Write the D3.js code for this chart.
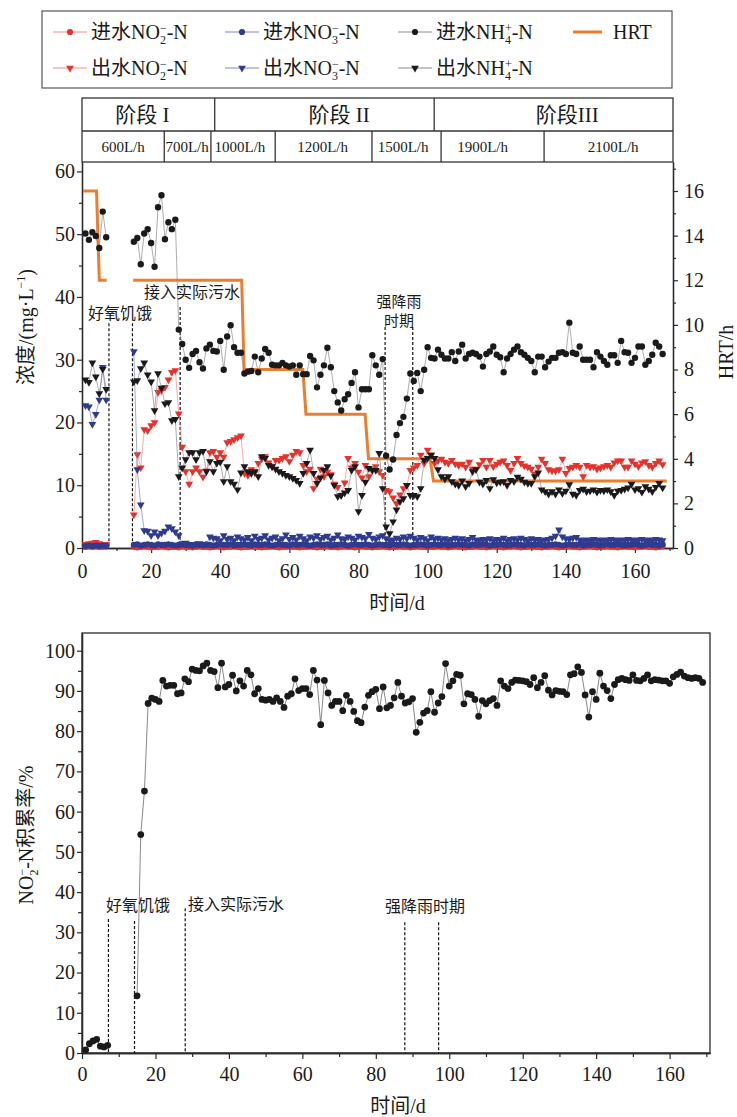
<!DOCTYPE html>
<html>
<head>
<meta charset="utf-8">
<script src="https://cdn.jsdelivr.net/npm/d3@7"></script>
<style>
body { margin: 0; background: #fff; }
text { font-family: "Liberation Serif", "Noto Sans CJK SC", serif; fill: #1a1a1a; }
.note { font-family: "Noto Sans CJK SC", sans-serif; }
</style>
</head>
<body>
<svg id="chart" width="737" height="1117"></svg>
<script>
// ---- data ----
// sampling days: before aerobic starvation, and after it
var days1 = [1, 2, 3, 4, 5, 6, 7];
var days2 = d3.range(15, 169);

var nh4In1 = [50.1, 49.1, 50.3, 49.7, 47.8, 53.6, 49.5];
var nh4In2 = [
  48.8, 49.4, 45.2, 50.1, 50.8, 48.6, 44.8, 54.3, 56.2, 49.2,
  51.9, 50.8, 52.3, 34.8, 32.5, 30.0, 28.7, 30.9, 31.4, 29.6,
  28.6, 31.8, 32.4, 31.4, 31.3, 33.0, 28.4, 33.7, 35.5, 32.0,
  31.1, 31.1, 27.8, 28.1, 28.2, 30.5, 28.0, 30.2, 31.7, 31.1,
  29.2, 29.1, 29.1, 29.5, 29.1, 28.9, 29.1, 27.6, 29.1, 27.7,
  27.7, 30.6, 29.9, 25.6, 27.6, 29.1, 31.9, 28.8, 25.0, 23.2,
  21.9, 23.7, 24.5, 26.3, 28.0, 22.4, 25.3, 25.3, 25.3, 30.7,
  29.1, 27.6, 30.1, 14.7, 12.5, 14.1, 18.0, 19.9, 20.9, 23.8,
  27.8, 26.6, 27.9, 25.0, 28.4, 32.0, 30.3, 30.2, 31.6, 30.8,
  30.2, 30.2, 31.2, 29.8, 31.3, 32.4, 30.2, 30.9, 31.1, 30.9,
  30.5, 28.9, 30.9, 31.3, 32.1, 30.8, 30.4, 28.0, 30.2, 30.9,
  31.6, 32.1, 31.2, 30.8, 30.3, 29.8, 28.0, 30.5, 30.5, 28.8,
  29.7, 30.3, 30.3, 31.1, 31.2, 30.9, 35.9, 31.1, 30.9, 32.1,
  30.0, 30.0, 30.0, 28.8, 31.2, 30.5, 29.8, 29.2, 30.7, 30.7,
  29.5, 33.0, 31.2, 31.1, 29.5, 30.3, 32.1, 32.1, 29.2, 29.8,
  30.8, 32.7, 32.1, 30.9
];

var nh4Out1 = [26.8, 26.4, 29.5, 27.3, 24.6, 28.5, 25.3];
var nh4Out2 = [
  26.5, 26.7, 28.6, 29.5, 27.6, 26.5, 21.9, 27.8, 25.5, 23.0,
  23.2, 20.3, 20.5, 11.4, 12.8, 14.1, 15.2, 15.2, 14.1, 15.2,
  15.4, 12.2, 13.8, 12.2, 13.5, 13.7, 10.6, 13.0, 10.6, 10.2,
  9.3, 12.0, 13.0, 12.2, 11.9, 12.2, 11.4, 14.6, 14.3, 13.2,
  13.0, 12.6, 12.2, 11.9, 11.6, 11.4, 11.1, 10.8, 10.3, 11.9,
  13.5, 15.6, 11.9, 10.3, 11.2, 12.4, 13.0, 11.5, 10.0, 8.2,
  8.4, 8.8, 9.2, 12.4, 13.0, 5.8, 8.4, 10.5, 12.7, 12.4,
  12.4, 15.1, 9.5, 3.4, 2.3, 4.2, 6.1, 7.4, 7.9, 10.0,
  8.4, 8.4, 8.2, 9.5, 14.0, 14.3, 14.8, 14.3, 12.5, 11.4,
  11.0, 11.4, 10.6, 10.2, 10.0, 10.7, 9.8, 10.3, 12.2, 12.5,
  10.5, 10.2, 10.8, 9.5, 10.9, 10.4, 10.5, 10.6, 10.0, 10.8,
  10.6, 11.3, 11.0, 10.5, 10.3, 10.3, 11.4, 12.0, 9.3, 9.0,
  8.6, 9.0, 8.6, 9.3, 8.7, 9.1, 10.1, 8.6, 8.4, 9.2,
  9.4, 9.0, 9.1, 9.3, 8.9, 9.2, 9.1, 9.3, 9.0, 8.4,
  9.1, 9.2, 9.4, 9.6, 10.2, 9.3, 9.5, 8.9, 9.8, 9.4,
  9.0, 9.7, 10.3, 9.6
];

var no2Out1 = [0.6, 0.7, 0.8, 0.9, 0.7, 0.6, 0.6];
var no2Out2 = [
  5.3, 14.9, 12.8, 18.9, 18.7, 19.5, 20.0, 24.8, 25.1, 25.6,
  26.8, 28.0, 28.3, 21.4, 16.1, 12.2, 10.2, 12.2, 12.8, 12.2,
  11.3, 12.3, 15.2, 15.4, 14.5, 15.2, 14.5, 16.8, 17.0, 17.3,
  17.6, 17.9, 11.9, 11.6, 12.5, 12.0, 13.5, 14.2, 14.6, 13.6,
  13.0, 14.0, 14.0, 14.3, 14.6, 13.8, 14.8, 15.4, 15.2, 13.2,
  12.2, 12.6, 9.5, 11.0, 12.6, 11.4, 12.1, 11.7, 10.2, 9.7,
  8.4, 10.4, 14.3, 12.8, 13.5, 12.1, 11.2, 13.2, 11.4, 12.5,
  13.0, 12.2, 11.6, 9.2, 9.0, 8.0, 7.1, 8.5, 9.5, 10.0,
  12.4, 12.8, 13.2, 14.8, 13.5, 15.6, 14.8, 13.5, 13.9, 14.2,
  13.7, 13.5, 14.0, 13.4, 13.2, 13.4, 12.9, 13.7, 12.6, 12.6,
  13.3, 14.0, 12.9, 14.0, 13.0, 13.4, 13.7, 13.9, 13.2, 12.4,
  13.5, 14.3, 13.5, 13.1, 12.9, 12.6, 11.8, 12.9, 14.2, 13.5,
  12.5, 12.3, 12.3, 12.5, 14.2, 11.9, 12.7, 12.9, 13.2, 12.9,
  11.4, 13.2, 12.9, 13.0, 12.6, 12.8, 13.0, 13.2, 12.9, 13.6,
  13.9, 13.9, 12.9, 12.9, 13.9, 13.4, 13.0, 13.6, 13.8, 13.2,
  12.9, 13.5, 13.9, 13.3
];

var no3Out1 = [22.7, 22.5, 19.7, 21.3, 23.6, 28.8, 23.6];
var no3Out2 = [
  31.3, 12.5, 6.9, 2.8, 2.7, 2.0, 2.6, 2.0, 2.4, 2.7,
  3.4, 3.1, 2.6, 2.0, 0.7, 0.8, 0.6, 0.5, 0.6, 0.7,
  0.5, 0.6, 1.8, 1.6, 1.5, 1.2, 2.0, 1.4, 1.6, 1.2,
  1.8, 1.5, 1.3, 1.7, 1.2, 1.9, 1.4, 1.6, 2.0, 1.3,
  1.6, 1.8, 1.2, 1.5, 2.1, 1.4, 1.7, 1.3, 1.9, 1.5,
  1.2, 1.8, 1.6, 2.0, 1.4, 1.7, 1.9, 1.3, 1.6, 2.1,
  1.5, 1.4, 1.8, 1.6, 1.3, 1.9, 1.7, 1.5, 2.2, 1.6,
  1.4, 1.8, 2.0, 1.5, 1.2, 1.3, 1.6, 1.4, 1.8, 1.5,
  1.9, 1.6, 1.3, 1.7, 1.5, 1.2, 1.8, 1.4, 1.6, 1.3,
  1.5, 1.2, 1.4, 1.6, 1.3, 1.5, 1.2, 1.4, 1.7, 1.3,
  1.2, 1.4, 1.3, 1.5, 1.2, 1.4, 1.3, 1.6, 1.2, 1.4,
  1.5, 1.3, 1.6, 1.4, 1.2, 1.5, 1.3, 1.4, 1.2, 1.3,
  1.4, 1.6, 1.9, 2.9, 1.8, 1.5, 1.4, 1.6, 1.7, 1.3,
  1.2, 1.3, 1.2, 1.4, 1.3, 1.2, 1.3, 1.2, 1.4, 1.3,
  1.2, 1.3, 1.2, 1.4, 1.3, 1.2, 1.3, 1.4, 1.2, 1.3,
  1.2, 1.4, 1.3, 1.2
];

var no3In1 = [0.3, 0.4, 0.3, 0.4, 0.3, 0.4, 0.3];
var no3In2 = [
  0.5, 0.6, 0.4, 0.5, 0.6, 0.5, 0.4, 0.6, 0.5, 0.5,
  0.6, 0.5, 0.4, 0.5, 0.6, 0.5, 0.5, 0.4, 0.6, 0.5,
  0.5, 0.6, 0.5, 0.4, 0.5, 0.6, 0.5, 0.5, 0.6, 0.4,
  0.5, 0.5, 0.6, 0.5, 0.4, 0.6, 0.5, 0.5, 0.6, 0.5,
  0.4, 0.5, 0.6, 0.5, 0.5, 0.4, 0.6, 0.5, 0.5, 0.6,
  0.5, 0.4, 0.5, 0.6, 0.5, 0.5, 0.6, 0.4, 0.5, 0.5,
  0.6, 0.5, 0.4, 0.5, 0.6, 0.5, 0.5, 0.6, 0.5, 0.4,
  0.5, 0.6, 0.5, 0.5, 0.4, 0.6, 0.5, 0.5, 0.6, 0.5,
  0.4, 0.5, 0.5, 0.6, 0.5, 0.4, 0.5, 0.6, 0.5, 0.5,
  0.6, 0.4, 0.5, 0.5, 0.6, 0.5, 0.5, 0.4, 0.6, 0.5,
  0.5, 0.6, 0.5, 0.4, 0.5, 0.5, 0.6, 0.5, 0.4, 0.5,
  0.6, 0.5, 0.5, 0.4, 0.6, 0.5, 0.5, 0.6, 0.5, 0.4,
  0.5, 0.5, 0.6, 0.5, 0.4, 0.5, 0.6, 0.5, 0.5, 0.6,
  0.4, 0.5, 0.5, 0.6, 0.5, 0.4, 0.5, 0.6, 0.5, 0.5,
  0.6, 0.5, 0.4, 0.5, 0.5, 0.6, 0.5, 0.4, 0.5, 0.6,
  0.5, 0.5, 0.4, 0.6
];

var no2In1 = [0.2, 0.3, 0.2, 0.3, 0.2, 0.2, 0.3];
var no2In2 = [
  0.2, 0.1, 0.2, 0.3, 0.2, 0.1, 0.2, 0.2, 0.3, 0.2,
  0.1, 0.2, 0.2, 0.1, 0.3, 0.2, 0.2, 0.1, 0.2, 0.3,
  0.2, 0.2, 0.1, 0.2, 0.3, 0.2, 0.1, 0.2, 0.2, 0.3,
  0.2, 0.1, 0.2, 0.2, 0.3, 0.2, 0.2, 0.1, 0.2, 0.2,
  0.3, 0.2, 0.1, 0.2, 0.2, 0.3, 0.2, 0.2, 0.1, 0.2,
  0.2, 0.3, 0.2, 0.1, 0.2, 0.2, 0.3, 0.2, 0.2, 0.1,
  0.2, 0.3, 0.2, 0.2, 0.1, 0.2, 0.3, 0.2, 0.2, 0.1,
  0.2, 0.2, 0.3, 0.2, 0.1, 0.2, 0.2, 0.3, 0.2, 0.2,
  0.1, 0.2, 0.3, 0.2, 0.2, 0.1, 0.2, 0.2, 0.3, 0.2,
  0.2, 0.1, 0.2, 0.3, 0.2, 0.2, 0.1, 0.2, 0.2, 0.3,
  0.2, 0.2, 0.1, 0.2, 0.3, 0.2, 0.2, 0.1, 0.2, 0.2,
  0.3, 0.2, 0.1, 0.2, 0.2, 0.3, 0.2, 0.2, 0.1, 0.2,
  0.2, 0.3, 0.2, 0.1, 0.2, 0.2, 0.3, 0.2, 0.2, 0.1,
  0.2, 0.2, 0.3, 0.2, 0.1, 0.2, 0.2, 0.3, 0.2, 0.2,
  0.1, 0.2, 0.3, 0.2, 0.2, 0.1, 0.2, 0.2, 0.3, 0.2,
  0.2, 0.1, 0.2, 0.3
];

// HRT step line (null = no operation during starvation)
var hrtDays = [0.3, 4.2, 5.0, 7.1, null, 14.8, 46.2, 46.9, 63.9, 64.8, 81.9, 82.9, 100.7, 101.7, 169.2];
var hrtValues = [16, 16, 12, 12, null, 12, 12, 8, 8, 6, 6, 4, 4, 3, 3];

// NO2- accumulation rate
var accDays1 = [1, 2, 3, 4, 5, 6, 7];
var accValues1 = [0.8, 2.3, 3.0, 3.4, 1.7, 1.5, 1.9];
var accDays2 = d3.range(15, 170);
var accValues2 = [
  14.2, 54.3, 65.1, 86.9, 88.2, 87.9, 87.4, 92.6, 91.2, 91.4,
  91.4, 89.3, 89.5, 93.0, 92.3, 95.4, 95.1, 95.0, 96.2, 96.9,
  95.1, 94.8, 90.8, 96.9, 91.0, 91.6, 93.9, 90.0, 92.5, 91.2,
  95.1, 94.0, 89.3, 90.6, 87.9, 87.7, 87.9, 87.4, 88.3, 87.4,
  85.9, 88.7, 89.3, 93.0, 90.1, 90.6, 90.6, 89.1, 95.1, 92.7,
  81.6, 92.6, 89.5, 86.4, 87.4, 87.4, 85.1, 88.9, 87.4, 84.9,
  82.6, 82.1, 86.0, 88.9, 89.8, 90.4, 85.6, 91.0, 85.8, 86.4,
  88.3, 92.1, 88.7, 87.0, 87.3, 88.1, 79.7, 82.2, 84.5, 85.1,
  89.8, 84.7, 87.0, 88.6, 96.8, 91.2, 92.5, 94.1, 93.9, 86.8,
  89.3, 89.1, 87.9, 83.7, 87.6, 86.8, 87.6, 88.1, 86.4, 92.5,
  91.2, 90.6, 92.1, 92.7, 92.6, 92.5, 92.3, 91.6, 93.3, 90.8,
  92.1, 93.8, 90.2, 89.0, 90.1, 89.9, 89.8, 89.1, 94.0, 94.3,
  96.0, 94.6, 89.0, 83.5, 89.8, 87.9, 94.4, 91.2, 90.1, 88.1,
  91.6, 92.8, 93.1, 92.8, 92.6, 94.0, 92.6, 92.5, 93.1, 94.0,
  92.5, 92.8, 92.7, 92.5, 92.5, 91.9, 93.5, 94.1, 94.7, 93.7,
  93.3, 93.1, 93.3, 93.1, 92.1
];

// event markers (day, top of dashed line)
var topEventDays = [7.8, 14.6, 28.4, 87.7, 95.7];
var topEventTops = [35.8, 35.8, 38.4, 35.2, 35.2];
var botEventDays = [7.2, 14.3, 28.1, 87.9, 97.1];
var botEventTops = [33.3, 32.8, 36.0, 32.5, 32.5];

// header table
var stageNames = ["阶段 I", "阶段 II", "阶段III"];
var stageEdges = [0, 38.4, 101.9, 171];
var stageTextDays = [17.5, 74.4, 140.4];
var flowNames = ["600L/h", "700L/h", "1000L/h", "1200L/h", "1500L/h", "1900L/h", "2100L/h"];
var flowEdges = [0, 23.8, 37.3, 55.9, 83.9, 103.9, 133.7, 171];
var flowTextDays = [11.9, 30.4, 45.7, 69.6, 92.9, 115.9, 153.7];

var RED = "#e8312a", BLUE = "#2e3b8f", BLACK = "#1a1a1a", ORANGE = "#ea7d2e";
var RED_L = "#f08a86", BLUE_L = "#7a84c0", BLACK_L = "#8a8a8a";

var svg = d3.select("#chart");

function styleAxis(g) {
  g.select(".domain").attr("stroke", "#2a2a2a").attr("stroke-width", 1.3);
  g.selectAll(".tick line").attr("stroke", "#2a2a2a").attr("stroke-width", 1.2);
  g.selectAll(".tick text").attr("font-size", 20).attr("font-family", "Liberation Serif").attr("fill", "#1a1a1a");
}

function drawSeries(g, x, y, segs, color, lineColor, shape, size) {
  var line = d3.line().x(function(d) { return x(d[0]); }).y(function(d) { return y(d[1]); });
  var sym = d3.symbol().type(shape == "tri" ? d3.symbolTriangle : d3.symbolCircle).size(size);
  segs.forEach(function(seg) {
    var pts = seg[0].map(function(d, i) { return [d, seg[1][i]]; });
    g.append("path").datum(pts)
      .attr("d", line)
      .attr("fill", "none")
      .attr("stroke", lineColor)
      .attr("stroke-width", 0.7);
    g.selectAll(null).data(pts).enter().append("path")
      .attr("d", sym)
      .attr("transform", function(d) {
        return "translate(" + x(d[0]) + "," + y(d[1]) + ")" + (shape == "tri" ? " rotate(180)" : "");
      })
      .attr("fill", color);
  });
}

// chemistry label like NO2- with stacked sub/superscript
function chem(t, pre, sub, sup, post, fs) {
  var small = Math.round(fs * 0.6);
  t.append("tspan").text(pre);
  t.append("tspan").attr("font-size", small).attr("dy", fs * 0.25).text(sub);
  t.append("tspan").attr("font-size", small).attr("dx", -small * 0.5).attr("dy", -fs * 0.62).text(sup);
  t.append("tspan").attr("dy", fs * 0.37).text(post);
}

// ---- legend ----
var legend = svg.append("g");
legend.append("rect")
  .attr("x", 42).attr("y", 11).attr("width", 630).attr("height", 77)
  .attr("fill", "none").attr("stroke", "#555").attr("stroke-width", 1.2);

var legendItems = [
  { x: 70, y: 32, c: RED, lc: RED_L, shape: "dot", pre: "进水NO", sub: "2", sup: "−" },
  { x: 242, y: 32, c: BLUE, lc: BLUE_L, shape: "dot", pre: "进水NO", sub: "3", sup: "−" },
  { x: 415, y: 32, c: BLACK, lc: BLACK_L, shape: "dot", pre: "进水NH", sub: "4", sup: "+" },
  { x: 70, y: 68, c: RED, lc: RED_L, shape: "tri", pre: "出水NO", sub: "2", sup: "−" },
  { x: 242, y: 68, c: BLUE, lc: BLUE_L, shape: "tri", pre: "出水NO", sub: "3", sup: "−" },
  { x: 415, y: 68, c: BLACK, lc: BLACK_L, shape: "tri", pre: "出水NH", sub: "4", sup: "+" }
];
legendItems.forEach(function(it) {
  legend.append("line")
    .attr("x1", it.x - 17).attr("x2", it.x + 17).attr("y1", it.y).attr("y2", it.y)
    .attr("stroke", it.lc).attr("stroke-width", 1);
  legend.append("path")
    .attr("d", d3.symbol().type(it.shape == "tri" ? d3.symbolTriangle : d3.symbolCircle).size(it.shape == "tri" ? 26 : 30))
    .attr("transform", "translate(" + it.x + "," + it.y + ")" + (it.shape == "tri" ? " rotate(180)" : ""))
    .attr("fill", it.c);
  var t = legend.append("text").attr("x", it.x + 21).attr("y", it.y + 7).attr("font-size", 20);
  chem(t, it.pre, it.sub, it.sup, "-N", 20);
});
legend.append("line")
  .attr("x1", 573).attr("x2", 602).attr("y1", 32).attr("y2", 32)
  .attr("stroke", ORANGE).attr("stroke-width", 3);
legend.append("text").attr("x", 613).attr("y", 39).attr("font-size", 20).text("HRT");

// ---- top chart ----
var xTop = d3.scaleLinear().domain([0, 171]).range([82, 673]);
var yTop = d3.scaleLinear().domain([0, 61.5]).range([548, 162]);
var yHrt = d3.scaleLinear().domain([0, 17.3]).range([548, 162]);

var topG = svg.append("g");

// header table
var table = topG.append("g").attr("stroke", "#333").attr("stroke-width", 1.3);
table.append("rect").attr("x", xTop(0)).attr("y", 98).attr("width", xTop(171) - xTop(0)).attr("height", 64).attr("fill", "none");
table.append("line").attr("x1", xTop(0)).attr("x2", xTop(171)).attr("y1", 131).attr("y2", 131);
stageEdges.slice(1, -1).forEach(function(d) {
  table.append("line").attr("x1", xTop(d)).attr("x2", xTop(d)).attr("y1", 98).attr("y2", 131);
});
flowEdges.slice(1, -1).forEach(function(d) {
  table.append("line").attr("x1", xTop(d)).attr("x2", xTop(d)).attr("y1", 131).attr("y2", 162);
});
stageNames.forEach(function(s, i) {
  topG.append("text").attr("x", xTop(stageTextDays[i])).attr("y", 122)
    .attr("text-anchor", "middle").attr("font-size", 21).text(s);
});
flowNames.forEach(function(s, i) {
  topG.append("text").attr("x", xTop(flowTextDays[i])).attr("y", 152)
    .attr("text-anchor", "middle").attr("font-size", 15).text(s);
});

// axes
topG.append("g").attr("transform", "translate(0,548)")
  .call(d3.axisBottom(xTop).tickValues(d3.range(0, 161, 20)).tickSize(5).tickSizeOuter(0).tickPadding(11))
  .call(styleAxis);
topG.append("g").attr("transform", "translate(0,548)")
  .call(d3.axisBottom(xTop).tickValues(d3.range(10, 171, 20)).tickSize(3).tickSizeOuter(0).tickFormat(""))
  .call(styleAxis);
topG.append("g").attr("transform", "translate(82,0)")
  .call(d3.axisLeft(yTop).tickValues(d3.range(0, 61, 10)).tickSize(5).tickSizeOuter(0).tickPadding(2))
  .call(styleAxis);
topG.append("g").attr("transform", "translate(82,0)")
  .call(d3.axisLeft(yTop).tickValues(d3.range(5, 61, 10)).tickSize(3).tickSizeOuter(0).tickFormat(""))
  .call(styleAxis);
topG.append("g").attr("transform", "translate(673,0)")
  .call(d3.axisRight(yHrt).tickValues(d3.range(0, 17, 2)).tickSize(5).tickSizeOuter(0).tickPadding(6))
  .call(styleAxis);
topG.append("g").attr("transform", "translate(673,0)")
  .call(d3.axisRight(yHrt).tickValues(d3.range(1, 18, 2)).tickSize(3).tickSizeOuter(0).tickFormat(""))
  .call(styleAxis);

// event dashed lines
topEventDays.forEach(function(d, i) {
  topG.append("line")
    .attr("x1", xTop(d)).attr("x2", xTop(d))
    .attr("y1", yTop(topEventTops[i])).attr("y2", yTop(0))
    .attr("stroke", "#111").attr("stroke-width", 1.2).attr("stroke-dasharray", "3,2");
});

// HRT
var hrtPts = hrtDays.map(function(d, i) { return [d, hrtValues[i]]; });
topG.append("path").datum(hrtPts)
  .attr("d", d3.line().defined(function(d) { return d[0] != null; })
    .x(function(d) { return xTop(d[0]); }).y(function(d) { return yHrt(d[1]); }))
  .attr("fill", "none").attr("stroke", ORANGE).attr("stroke-width", 3);

var marks = topG.append("g");
drawSeries(marks, xTop, yTop, [[days1, no2In1], [days2, no2In2]], RED, RED_L, "dot", 30);
drawSeries(marks, xTop, yTop, [[days1, no2Out1], [days2, no2Out2]], RED, RED_L, "tri", 26);
drawSeries(marks, xTop, yTop, [[days1, no3In1], [days2, no3In2]], BLUE, BLUE_L, "dot", 30);
drawSeries(marks, xTop, yTop, [[days1, no3Out1], [days2, no3Out2]], BLUE, BLUE_L, "tri", 26);
drawSeries(marks, xTop, yTop, [[days1, nh4In1], [days2, nh4In2]], BLACK, BLACK_L, "dot", 32);
drawSeries(marks, xTop, yTop, [[days1, nh4Out1], [days2, nh4Out2]], BLACK, BLACK_L, "tri", 26);

// notes
topG.append("text").attr("class", "note").attr("x", 120).attr("y", 319).attr("text-anchor", "middle").attr("font-size", 16).text("好氧饥饿");
topG.append("text").attr("class", "note").attr("x", 192).attr("y", 298).attr("text-anchor", "middle").attr("font-size", 16).text("接入实际污水");
topG.append("text").attr("class", "note").attr("x", 399).attr("y", 307).attr("text-anchor", "middle").attr("font-size", 15).text("强降雨");
topG.append("text").attr("class", "note").attr("x", 399).attr("y", 326).attr("text-anchor", "middle").attr("font-size", 15).text("时期");

// axis titles
var ylab = topG.append("text").attr("transform", "translate(33,327) rotate(-90)")
  .attr("text-anchor", "middle").attr("font-size", 20);
ylab.append("tspan").text("浓度/(mg·L");
ylab.append("tspan").attr("font-size", 12).attr("dy", -8).text("−1");
ylab.append("tspan").attr("dy", 8).text(")");
topG.append("text").attr("transform", "translate(733,352) rotate(-90)")
  .attr("text-anchor", "middle").attr("font-size", 20).text("HRT/h");
topG.append("text").attr("x", 397).attr("y", 610).attr("text-anchor", "middle").attr("font-size", 20).text("时间/d");

// ---- bottom chart ----
var xBot = d3.scaleLinear().domain([0, 171]).range([82, 710]);
var yBot = d3.scaleLinear().domain([0, 104.4]).range([1053, 633]);
var bot = svg.append("g");

bot.append("rect").attr("x", 82).attr("y", 633).attr("width", 628).attr("height", 420)
  .attr("fill", "none").attr("stroke", "#2a2a2a").attr("stroke-width", 1.3);

bot.append("g").attr("transform", "translate(0,1053)")
  .call(d3.axisBottom(xBot).tickValues(d3.range(0, 161, 20)).tickSize(6).tickSizeOuter(0).tickPadding(8))
  .call(styleAxis);
bot.append("g").attr("transform", "translate(0,1053)")
  .call(d3.axisBottom(xBot).tickValues(d3.range(10, 171, 20)).tickSize(4).tickSizeOuter(0).tickFormat(""))
  .call(styleAxis);
bot.append("g").attr("transform", "translate(82,0)")
  .call(d3.axisLeft(yBot).tickValues(d3.range(0, 101, 10)).tickSize(5).tickSizeOuter(0).tickPadding(2))
  .call(styleAxis);
bot.append("g").attr("transform", "translate(82,0)")
  .call(d3.axisLeft(yBot).tickValues(d3.range(5, 101, 10)).tickSize(4).tickSizeOuter(0).tickFormat(""))
  .call(styleAxis);

botEventDays.forEach(function(d, i) {
  bot.append("line")
    .attr("x1", xBot(d)).attr("x2", xBot(d))
    .attr("y1", yBot(botEventTops[i])).attr("y2", yBot(0))
    .attr("stroke", "#111").attr("stroke-width", 1.2).attr("stroke-dasharray", "3,2");
});

drawSeries(bot.append("g"), xBot, yBot, [[accDays1, accValues1], [accDays2, accValues2]], BLACK, "#555", "dot", 36);

bot.append("text").attr("class", "note").attr("x", 138).attr("y", 911).attr("text-anchor", "middle").attr("font-size", 16).text("好氧饥饿");
bot.append("text").attr("class", "note").attr("x", 236).attr("y", 910).attr("text-anchor", "middle").attr("font-size", 16).text("接入实际污水");
bot.append("text").attr("class", "note").attr("x", 425).attr("y", 912).attr("text-anchor", "middle").attr("font-size", 16).text("强降雨时期");

var ylab2 = bot.append("text").attr("transform", "translate(33,835) rotate(-90)")
  .attr("text-anchor", "middle").attr("font-size", 20);
chem(ylab2, "NO", "2", "−", "-N积累率/%", 20);
bot.append("text").attr("x", 398).attr("y", 1113).attr("text-anchor", "middle").attr("font-size", 20).text("时间/d");
</script>
</body>
</html>
